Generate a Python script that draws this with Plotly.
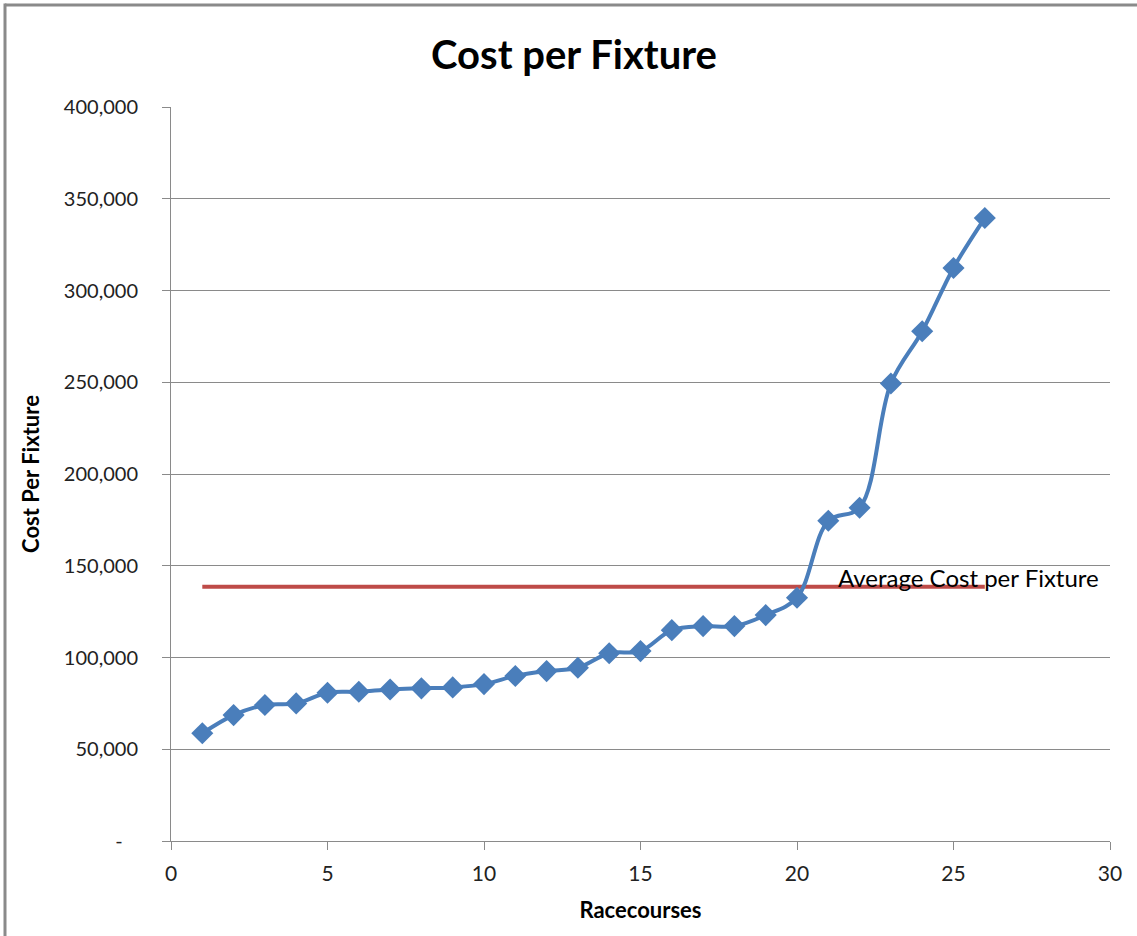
import plotly.graph_objects as go

# ---- data ----
racecourses = list(range(1, 27))
cost_per_fixture = [58700, 68600, 74100, 75000, 80800, 81300, 82600, 83200, 83700, 85500,
                    89900, 92600, 94400, 102300, 103500, 114900, 117100, 117100, 123100, 132600,
                    174500, 181600, 249300, 277800, 312300, 339500]
avg_x = [1, 26]
avg_cost = [138500, 138500]
y_tickvals = [0, 50000, 100000, 150000, 200000, 250000, 300000, 350000, 400000]
y_ticktext = ["-\u00a0\u00a0\u00a0", "50,000", "100,000", "150,000", "200,000", "250,000",
              "300,000", "350,000", "400,000"]
x_tickvals = [0, 5, 10, 15, 20, 25, 30]

W, H = 1137, 936
L, R, T, B = 171, 1110, 107, 841


def px_x(p):
    return (p - L) / (R - L)


def px_y(p):
    return (B - p) / (B - T)


FONT = "Lato, 'Open Sans', sans-serif"
GRID = "#8a8a8a"
BLUE = "#4A7EBB"
RED = "#BE4B48"

fig = go.Figure()
fig.add_trace(go.Scatter(
    x=avg_x, y=avg_cost, mode="lines",
    line=dict(color=RED, width=4), showlegend=False, hoverinfo="skip"))
fig.add_trace(go.Scatter(
    x=racecourses, y=cost_per_fixture, mode="lines+markers",
    line=dict(color=BLUE, width=4, shape="spline"),
    marker=dict(symbol="diamond", size=17, color=BLUE),
    showlegend=False))

fig.update_layout(
    width=W, height=H,
    margin=dict(l=L, r=W - R, t=T, b=H - B),
    paper_bgcolor="white", plot_bgcolor="white",
    font=dict(family=FONT, size=20, color="#000000"),
    title=dict(text="<b>Cost per Fixture</b>", x=px_x(574), xref="paper", xanchor="center",
               y=1 - 55 / H, yanchor="middle", font=dict(size=40, family=FONT)),
    xaxis=dict(range=[0, 30], tickvals=x_tickvals, ticks="outside", ticklen=8,
               tickcolor=GRID, showline=True, linecolor=GRID, linewidth=1,
               showgrid=False, zeroline=False, ticklabelstandoff=6,
               tickfont=dict(size=21, color="#222"),
               title=dict(text="<b>Racecourses</b>", font=dict(size=22), standoff=18)),
    yaxis=dict(range=[0, 400000], tickvals=y_tickvals, ticktext=y_ticktext,
               ticks="outside", ticklen=8, tickcolor=GRID,
               showline=True, linecolor=GRID, linewidth=1,
               showgrid=True, gridcolor=GRID, gridwidth=1, zeroline=False,
               ticklabelstandoff=20, tickfont=dict(size=20, color="#222"),
               title=dict(text="<b>Cost Per Fixture</b>", font=dict(size=22), standoff=18)),
    shapes=[
        dict(type="line", xref="paper", yref="paper", x0=px_x(5), x1=px_x(W + 5),
             y0=px_y(5), y1=px_y(5), line=dict(color="#8a8a8a", width=3)),
        dict(type="line", xref="paper", yref="paper", x0=px_x(5), x1=px_x(5),
             y0=px_y(3.5), y1=px_y(H + 5), line=dict(color="#8a8a8a", width=3)),
    ],
    annotations=[
        dict(text="Average Cost per Fixture", xref="paper", yref="paper",
             x=px_x(836), y=px_y(577), xanchor="left", yanchor="middle",
             showarrow=False, font=dict(size=24, color="#000"))
    ],
)

fig.write_html("out.html")
